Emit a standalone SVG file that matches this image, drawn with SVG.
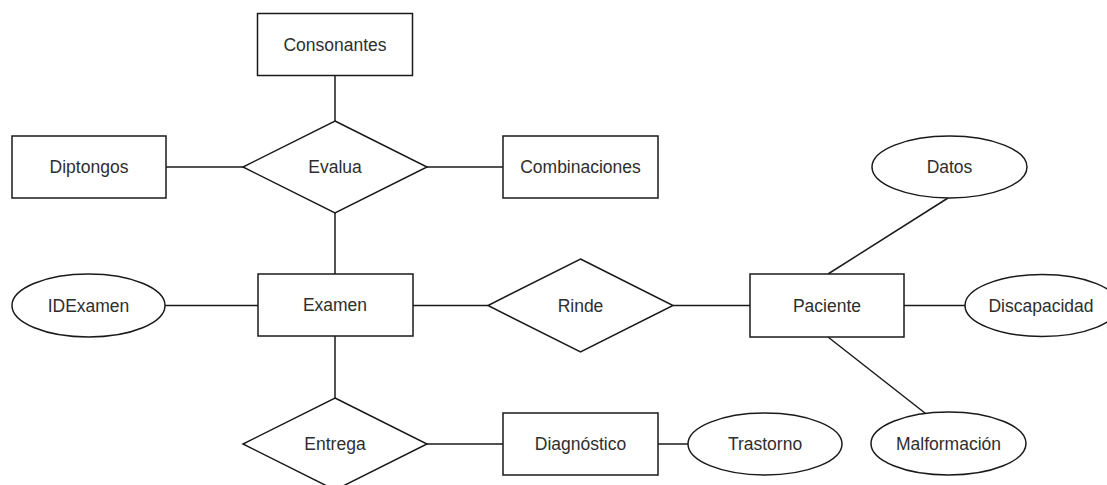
<svg xmlns="http://www.w3.org/2000/svg" width="1107" height="485" viewBox="0 0 1107 485">
  <style>
    .shape { fill: #ffffff; stroke: #1a1a1a; stroke-width: 1.5; }
    .edge { fill: none; stroke: #1a1a1a; stroke-width: 1.5; }
    .label { font-family: "Liberation Sans", Arial, sans-serif; font-size: 17.5px; fill: #2e2e2e; text-anchor: middle; dominant-baseline: central; }
  </style>
  <rect width="1107" height="485" fill="#ffffff"/>

  <!-- Connectors -->
  <g id="connectors">
    <line class="edge" x1="335" y1="75" x2="335" y2="121"/>
    <line class="edge" x1="335" y1="213" x2="335" y2="274"/>
    <line class="edge" x1="166" y1="167" x2="243" y2="167"/>
    <line class="edge" x1="427" y1="167" x2="503" y2="167"/>
    <line class="edge" x1="165" y1="305.5" x2="258" y2="305.5"/>
    <line class="edge" x1="413" y1="305.5" x2="488" y2="305.5"/>
    <line class="edge" x1="673" y1="305.5" x2="750" y2="305.5"/>
    <line class="edge" x1="904" y1="305.5" x2="965" y2="305.5"/>
    <line class="edge" x1="948" y1="198" x2="828" y2="274"/>
    <line class="edge" x1="828" y1="337" x2="930" y2="417"/>
    <line class="edge" x1="335" y1="336" x2="335" y2="398"/>
    <line class="edge" x1="427" y1="444" x2="503" y2="444"/>
    <line class="edge" x1="658" y1="444" x2="688" y2="444"/>
  </g>

  <!-- Entities -->
  <g id="consonantes">
    <rect class="shape" x="257.5" y="13.5" width="155" height="62"/>
    <text class="label" x="335" y="44.5">Consonantes</text>
  </g>
  <g id="diptongos">
    <rect class="shape" x="12" y="136" width="154" height="62"/>
    <text class="label" x="89" y="167">Diptongos</text>
  </g>
  <g id="combinaciones">
    <rect class="shape" x="503" y="136" width="155" height="62"/>
    <text class="label" x="580.5" y="167">Combinaciones</text>
  </g>
  <g id="examen">
    <rect class="shape" x="258" y="274" width="155" height="62"/>
    <text class="label" x="335" y="305">Examen</text>
  </g>
  <g id="paciente">
    <rect class="shape" x="750" y="274" width="154" height="63"/>
    <text class="label" x="827" y="305.5">Paciente</text>
  </g>
  <g id="diagnostico">
    <rect class="shape" x="503" y="413" width="155" height="62"/>
    <text class="label" x="580.5" y="444">Diagnóstico</text>
  </g>

  <!-- Relationships -->
  <g id="evalua">
    <polygon class="shape" points="335,121 427,167 335,213 243,167"/>
    <text class="label" x="335" y="167">Evalua</text>
  </g>
  <g id="rinde">
    <polygon class="shape" points="580.5,259 673,305.5 580.5,352 488,305.5"/>
    <text class="label" x="580.5" y="305.5">Rinde</text>
  </g>
  <g id="entrega">
    <polygon class="shape" points="335,398 427,444 335,490 243,444"/>
    <text class="label" x="335" y="444">Entrega</text>
  </g>

  <!-- Attributes -->
  <g id="idexamen">
    <ellipse class="shape" cx="88.5" cy="305.5" rx="76.5" ry="31.5"/>
    <text class="label" x="88.5" y="305.5">IDExamen</text>
  </g>
  <g id="datos">
    <ellipse class="shape" cx="949.5" cy="167" rx="77.5" ry="31"/>
    <text class="label" x="949.5" y="167">Datos</text>
  </g>
  <g id="discapacidad">
    <ellipse class="shape" cx="1042" cy="305.5" rx="77" ry="31"/>
    <text class="label" x="1041" y="305.5">Discapacidad</text>
  </g>
  <g id="malformacion">
    <ellipse class="shape" cx="948.5" cy="443.5" rx="77.5" ry="31.5"/>
    <text class="label" x="948.5" y="443.5">Malformación</text>
  </g>
  <g id="trastorno">
    <ellipse class="shape" cx="765" cy="444" rx="77" ry="31"/>
    <text class="label" x="765" y="444">Trastorno</text>
  </g>
</svg>
